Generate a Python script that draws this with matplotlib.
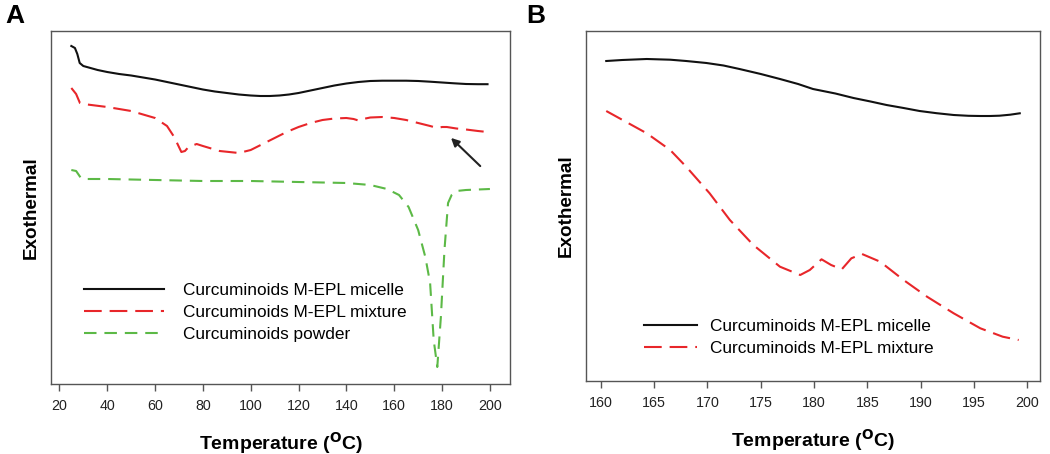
import matplotlib
matplotlib.use("Agg")
import matplotlib.pyplot as plt

plt.rcParams['font.family'] = ['Liberation Sans', 'DejaVu Sans']

# ---------------- Panel A data (arbitrary heat-flow units) ----------------
tA_micelle = [25, 26.5, 27.5, 28.5, 30, 33, 36, 40, 45, 50, 55, 60, 65, 70, 75, 80, 85, 90, 95, 100, 104, 108, 112, 116, 120, 125, 130, 135, 140, 145, 150, 155, 160, 165, 170, 175, 180, 185, 190, 195, 199]
yA_micelle = [338, 336, 330, 321, 318, 316, 314, 312, 310, 308.5, 306.5, 304.5, 302, 299.5, 297, 294.5, 292.5, 291, 289.5, 288.5, 288, 288, 288.5, 289.5, 291, 293.5, 296, 298.5, 300.5, 302, 303, 303.3, 303.3, 303.3, 303, 302.3, 301.5, 300.7, 300, 299.8, 299.8]

tA_mixture = [25, 27, 28.6, 30, 40, 50, 60, 65, 68, 71, 72.5, 74, 77.4, 80, 87, 95, 100, 105, 110, 115, 120, 125, 130, 135, 140, 143, 145, 147, 150, 155, 160, 165, 170, 175, 178, 180, 182, 186, 190, 195, 199]
yA_mixture = [296, 290, 281, 280, 277, 273, 266, 258, 247, 232, 233, 237, 240, 238, 233, 231, 234, 240, 246, 252, 257, 261, 264, 265.5, 266, 265, 263.5, 265, 266.5, 267, 266, 264, 261, 258, 256, 257, 257, 255.5, 254.5, 253, 252]

tA_powder = [25, 27, 29, 30, 40, 60, 80, 100, 120, 140, 150, 157, 162, 166, 170, 173, 175, 176.5, 178, 179.5, 181, 182.5, 184, 186, 190, 200]
yA_powder = [214, 213, 206, 205, 205, 204, 203, 203, 202, 201, 199, 195, 189, 177, 154, 127, 101, 44, 17, 67, 134, 181, 189, 193, 194, 195]

arrow_tail = (196.8, 216)
arrow_head = (182.9, 248)

# ---------------- Panel B data ----------------
tB_micelle = [160.5, 162, 164.3, 166.5, 168, 169.9, 171.5, 173, 175, 176.8, 178.5, 179.9, 182, 183.7, 185.3, 186.8, 188.4, 189.9, 191.5, 193.1, 194.5, 195.6, 196.5, 197.4, 198.4, 199.3]
yB_micelle = [320, 321, 322, 321.3, 320, 318, 315.5, 312, 307, 302, 297, 292, 287.5, 283, 279.5, 276, 273, 270, 267.8, 266, 265.2, 265, 265, 265.3, 266.3, 267.7]

tB_mixture = [160.5, 164.3, 166.5, 168.0, 170.2, 172.1, 174.3, 176.8, 178.7, 179.6, 180.7, 181.6, 182.6, 183.5, 184.5, 186.2, 188.4, 190.6, 193.1, 195.6, 197.7, 199.2]
yB_mixture = [270, 247.7, 231, 214.3, 187.7, 161, 136, 114.3, 106, 111, 121.7, 116, 111.7, 122.7, 127, 119.3, 101, 84.3, 67.7, 52.7, 44.3, 41]

ticksA = [20, 40, 60, 80, 100, 120, 140, 160, 180, 200]
ticksB = [160, 165, 170, 175, 180, 185, 190, 195, 200]

labels = ["Curcuminoids M-EPL micelle", "Curcuminoids M-EPL mixture", "Curcuminoids powder"]
c_black, c_red, c_green = "#111111", "#e8262a", "#5cb946"
xlab = r"Temperature ($\mathbf{^{O}}$C)"

fig = plt.figure(figsize=(10.5, 4.54), dpi=100)
W, H = 1050, 454
axA = fig.add_axes([51 / W, 1 - 384 / H, (510 - 51) / W, (384 - 31) / H])
axB = fig.add_axes([586 / W, 1 - 381 / H, (1040 - 586) / W, (381 - 31) / H])

lw = 1.5
red_dash = (8.5, 3.8)
green_dash = (6.0, 3.8)

axA.plot(tA_micelle, yA_micelle, color=c_black, lw=lw, label=labels[0])
axA.plot(tA_mixture, yA_mixture, color=c_red, lw=lw, dashes=red_dash, label=labels[1])
axA.plot(tA_powder, yA_powder, color=c_green, lw=lw, dashes=green_dash, label=labels[2])
axA.annotate("", xy=arrow_head, xytext=arrow_tail,
             arrowprops=dict(arrowstyle="-|>", color="#222222", lw=1.5, mutation_scale=12))
axA.set_xlim(16.5, 208.4)
axA.set_ylim(0, 353)
axA.set_xticks(ticksA)

axB.plot(tB_micelle, yB_micelle, color=c_black, lw=lw, label=labels[0])
axB.plot(tB_mixture, yB_mixture, color=c_red, lw=lw, dashes=red_dash, label=labels[1])
axB.set_xlim(158.6, 201.2)
axB.set_ylim(0, 350)
axB.set_xticks(ticksB)

for ax in (axA, axB):
    ax.set_yticks([])
    for s in ax.spines.values():
        s.set_color("#555555")
        s.set_linewidth(1.0)
    ax.tick_params(axis='x', direction='out', length=5, width=1, color="#555555",
                   labelsize=10.3, labelcolor="#222222", pad=6)
    ax.set_xlabel(xlab, fontsize=14, fontweight='bold', labelpad=12)
    ax.set_ylabel("Exothermal", fontsize=13.6, fontweight='bold', labelpad=8)

axA.legend(loc='upper left', bbox_to_anchor=(0.056, 0.306), frameon=False, fontsize=12.4,
           handlelength=4.65, handletextpad=1.15, labelspacing=0.4, borderaxespad=0)
axB.legend(loc='upper left', bbox_to_anchor=(0.112, 0.197), frameon=False, fontsize=12.4,
           handlelength=3.1, handletextpad=0.75, labelspacing=0.4, borderaxespad=0)

fig.text(5 / W, 1 - 4 / H, "A", fontsize=19, fontweight='bold', va='top', ha='left')
fig.text(526 / W, 1 - 4 / H, "B", fontsize=19, fontweight='bold', va='top', ha='left')

fig.savefig("out.png", dpi=100)
